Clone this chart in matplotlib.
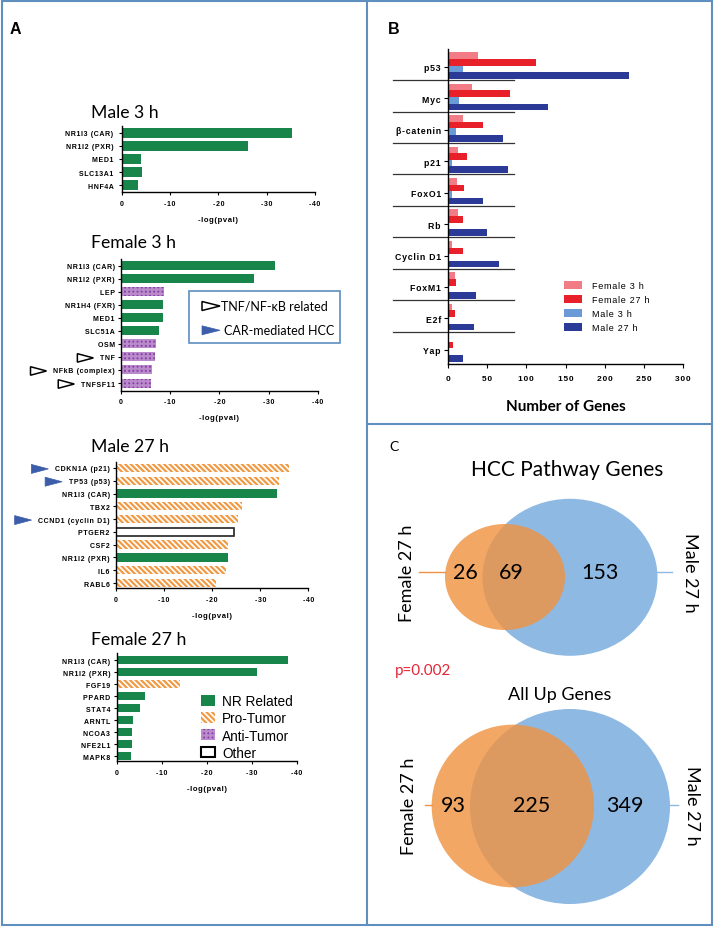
import numpy as np
import matplotlib
matplotlib.use('Agg')
import matplotlib.pyplot as plt
from matplotlib.patches import Patch, Ellipse, Rectangle, Polygon

# ---------------- data ----------------
m3_genes = ["NR1I3 (CAR)", "NR1I2 (PXR)", "MED1", "SLC13A1", "HNF4A"]
m3_vals = [-35.3, -26.1, -4.0, -4.1, -3.4]
m3_cats = ["NR", "NR", "NR", "NR", "NR"]

f3_genes = ["NR1I3 (CAR)", "NR1I2 (PXR)", "LEP", "NR1H4 (FXR)", "MED1", "SLC51A",
            "OSM", "TNF", "NFkB (complex)", "TNFSF11"]
f3_vals = [-31.4, -27.0, -8.7, -8.6, -8.6, -7.8, -7.2, -6.9, -6.4, -6.0]
f3_cats = ["NR", "NR", "Anti", "NR", "NR", "NR", "Anti", "Anti", "Anti", "Anti"]

m27_genes = ["CDKN1A (p21)", "TP53 (p53)", "NR1I3 (CAR)", "TBX2", "CCND1 (cyclin D1)",
             "PTGER2", "CSF2", "NR1I2 (PXR)", "IL6", "RABL6"]
m27_vals = [-36.0, -34.0, -33.5, -26.3, -25.4, -24.6, -23.4, -23.2, -22.8, -20.7]
m27_cats = ["Pro", "Pro", "NR", "Pro", "Pro", "Other", "Pro", "NR", "Pro", "Pro"]

f27_genes = ["NR1I3 (CAR)", "NR1I2 (PXR)", "FGF19", "PPARD", "STAT4", "ARNTL",
             "NCOA3", "NFE2L1", "MAPK8"]
f27_vals = [-37.9, -31.2, -14.1, -6.4, -5.3, -3.6, -3.4, -3.4, -3.3]
f27_cats = ["NR", "NR", "Pro", "NR", "NR", "NR", "NR", "NR", "NR"]

tnf_related = ["TNF", "NFkB (complex)", "TNFSF11"]
car_hcc = ["CDKN1A (p21)", "TP53 (p53)", "CCND1 (cyclin D1)"]

xticks_a = [0, -10, -20, -30, -40]

b_cats = ["p53", "Myc", "β-catenin", "p21", "FoxO1", "Rb", "Cyclin D1", "FoxM1", "E2f", "Yap"]
b_series = ["Female 3 h", "Female 27 h", "Male 3 h", "Male 27 h"]
b_f3 = [39, 31, 20, 13, 12, 13, 6, 9, 5, 2]
b_f27 = [113, 79, 45, 24, 21, 19, 20, 11, 9, 7]
b_m3 = [19, 14, 11, 5, 5, 2, 0, 0, 0, 0]
b_m27 = [231, 128, 71, 77, 45, 50, 65, 36, 33, 19]
xticks_b = [0, 50, 100, 150, 200, 250, 300]

venn1 = {"title": "HCC Pathway Genes", "left": 26, "both": 69, "right": 153}
venn2 = {"title": "All Up Genes", "left": 93, "both": 225, "right": 349}
p_text = "p=0.002"

# ---------------- style ----------------
W, H = 714, 928
GREEN = '#18864B'
ORANGE = '#F09A45'
PURPLE = '#8A3FA6'
PURPLE_L = '#B98BCB'
C_F3 = '#F27C85'
C_F27 = '#E8202A'
C_M3 = '#6A9BD8'
C_M27 = '#2B3A97'
BORDER = '#5E8FBF'
TRI_BLUE = '#3C5DAA'
V_BLUE = '#8EB9E3'
V_ORANGE = '#F0913F'
BOLD = ['Liberation Sans', 'DejaVu Sans']
HUM = ['Lato', 'DejaVu Sans']

plt.rcParams['hatch.linewidth'] = 1.6
PRO_HATCH = '\\' * 6
ANTI_HATCH = '++++'


def sp(s):
    return '\u200a'.join(s)


fig = plt.figure(figsize=(W / 100, H / 100), dpi=100)


def px_axes(x0, y0, x1, y1):
    ax = fig.add_axes([x0 / W, 1 - y1 / H, (x1 - x0) / W, (y1 - y0) / H])
    ax.set_facecolor('none')
    return ax


def style_spines(ax):
    for s in ['top', 'right']:
        ax.spines[s].set_visible(False)
    for s in ['left', 'bottom']:
        ax.spines[s].set_linewidth(1.0)
        ax.spines[s].set_color('black')


def hbar_panel(ax, genes, vals, cats, bh, ylim, ypad):
    y = np.arange(len(genes))
    for yi, v, c in zip(y, vals, cats):
        if c == 'NR':
            ax.barh(yi, v, bh, color=GREEN, lw=0)
        elif c == 'Pro':
            ax.barh(yi, v, bh, facecolor='white', edgecolor=ORANGE, hatch=PRO_HATCH, lw=0)
        elif c == 'Anti':
            ax.barh(yi, v, bh, color=PURPLE, lw=0)
            ax.barh(yi, v, bh, facecolor='none', edgecolor=PURPLE_L, hatch=ANTI_HATCH, lw=0)
        else:
            ax.barh(yi, v, bh, facecolor='white', edgecolor='#222222', lw=1.2)
    ax.set_xlim(0, -40)
    ax.set_ylim(*ylim)
    ax.set_xticks(xticks_a)
    ax.set_xticklabels([sp(str(t)) for t in xticks_a], fontsize=5, fontweight='bold', family=BOLD)
    ax.set_yticks(y)
    ax.set_yticklabels([sp(g) for g in genes], fontsize=5, fontweight='bold', family=BOLD)
    ax.tick_params(axis='x', length=2.5, width=0.8, pad=3)
    ax.tick_params(axis='y', length=2.5, width=0.8, pad=ypad)
    ax.set_xlabel(sp('-log(pval)'), fontsize=5.5, fontweight='bold', family=BOLD, labelpad=6.5)
    style_spines(ax)


ax_m3 = px_axes(121.7, 126.7, 315, 193.3)
hbar_panel(ax_m3, m3_genes, m3_vals, m3_cats, 0.72, (4.56, -0.56), 3.5)
ax_f3 = px_axes(121, 260, 317.7, 391.7)
hbar_panel(ax_f3, f3_genes, f3_vals, f3_cats, 0.69, (9.59, -0.51), 2)
ax_m27 = px_axes(116, 463.3, 308.3, 589)
hbar_panel(ax_m27, m27_genes, m27_vals, m27_cats, 0.65, (9.39, -0.44), 2)
ax_f27 = px_axes(116.5, 654.3, 297, 762)
hbar_panel(ax_f27, f27_genes, f27_vals, f27_cats, 0.69, (8.39, -0.56), 2)

# legend of categories
leg_handles = [
    Patch(facecolor=GREEN, lw=0),
    Patch(facecolor='white', edgecolor=ORANGE, hatch=PRO_HATCH, lw=0),
    (Patch(facecolor=PURPLE, lw=0), Patch(facecolor='none', edgecolor=PURPLE_L, hatch=ANTI_HATCH, lw=0)),
    Patch(facecolor='white', edgecolor='black', lw=1.5),
]
leg_labels = ["NR Related", "Pro-Tumor", "Anti-Tumor", "Other"]
ax_f27.legend(leg_handles, leg_labels, loc='upper left',
              bbox_to_anchor=(200.7 / W, 1 - 695 / H), bbox_transform=fig.transFigure,
              frameon=False, borderpad=0, borderaxespad=0, handlelength=1.06,
              handleheight=0.83, handletextpad=0.5, labelspacing=0.24,
              prop={'family': BOLD, 'size': 9.8})

# ---------------- panel B ----------------
ax_b = px_axes(447.7, 50, 683.3, 365)
yb = np.arange(len(b_cats))
offsets = [-0.36, -0.15, 0.06, 0.27]
bh_b = 0.21
for vals, col, off, lab in zip([b_f3, b_f27, b_m3, b_m27], [C_F3, C_F27, C_M3, C_M27], offsets, b_series):
    ax_b.barh(yb + off, vals, bh_b, color=col, lw=0, label=sp(lab))
ax_b.set_xlim(0, 300)
ax_b.set_ylim(9.45, -0.57)
ax_b.set_xticks(xticks_b)
ax_b.set_xticklabels([sp(str(t)) for t in xticks_b], fontsize=6, fontweight='bold', family=BOLD)
ax_b.set_yticks(yb)
ax_b.set_yticklabels([sp(c) for c in b_cats], fontsize=6.3, fontweight='bold', family=BOLD)
ax_b.tick_params(axis='x', length=3, width=0.8, pad=5.2)
ax_b.tick_params(axis='y', length=3, width=0.8, pad=2)
ax_b.set_xlabel("Number of Genes", fontsize=11, fontweight='bold', family=HUM, labelpad=12)
style_spines(ax_b)
for k in range(len(b_cats) - 1):
    ax_b.plot([-0.233, 0.281], [k + 0.42, k + 0.42], transform=ax_b.get_yaxis_transform(),
              color='#333333', lw=0.9, clip_on=False)
ax_b.legend(loc='upper left', bbox_to_anchor=(564.3 / W, 1 - 282 / H), bbox_transform=fig.transFigure,
            frameon=False, borderpad=0, borderaxespad=0, handlelength=2.0, handleheight=0.9,
            handletextpad=1.05, labelspacing=0.55, prop={'family': BOLD, 'size': 6.5})

# ---------------- overlay ----------------
ov = fig.add_axes([0, 0, 1, 1])
ov.set_xlim(0, W)
ov.set_ylim(H, 0)
ov.set_facecolor('none')
ov.axis('off')

# borders
ov.add_patch(Rectangle((2, 1.5), 710, 924, facecolor='none', edgecolor=BORDER, lw=1.5))
ov.plot([366.7, 366.7], [1.5, 925.5], color=BORDER, lw=1.5)
ov.plot([366.7, 712], [425, 425], color=BORDER, lw=1.5)

ov.text(10, 29, "A", fontsize=11.5, fontweight='bold', family=BOLD, va='center', ha='left')
ov.text(388, 29, "B", fontsize=11.5, fontweight='bold', family=BOLD, va='center', ha='left')
ov.text(389, 447, "C", fontsize=10, family=HUM, va='center', ha='left')

for title, yc in [("Male 3 h", 113), ("Female 3 h", 243), ("Male 27 h", 447), ("Female 27 h", 640)]:
    ov.text(90.7, yc, title, fontsize=12.7, family=HUM, va='center', ha='left')


def tri(xr, yc, w, h, face, edge, lw):
    ov.add_patch(Polygon([[xr - w, yc - h / 2], [xr - w, yc + h / 2], [xr, yc]], closed=True,
                         facecolor=face, edgecolor=edge, lw=lw, joinstyle='miter'))


fig.canvas.draw()
renderer = fig.canvas.get_renderer()


def mark(ax, genes, targets, face, edge, lw, w, h):
    labels = ax.get_yticklabels()
    for g, lab in zip(genes, labels):
        if g in targets:
            bb = lab.get_window_extent(renderer)
            yc = H - (bb.y0 + bb.y1) / 2
            tri(bb.x0 - 6.5, yc, w, h, face, edge, lw)


mark(ax_f3, f3_genes, tnf_related, 'white', 'black', 1.1, 16, 8.5)
mark(ax_m27, m27_genes, car_hcc, TRI_BLUE, TRI_BLUE, 0.5, 17, 9)

# triangle legend box
ov.add_patch(Rectangle((189, 291.7), 151, 52.3, facecolor='white', edgecolor=BORDER, lw=1.2))
tri(220, 307, 18, 9, 'white', 'black', 1.1)
tri(220, 331.3, 18, 9, TRI_BLUE, TRI_BLUE, 0.5)
ov.text(221, 307, "TNF/NF-κB related", fontsize=9, family=HUM, va='center', ha='left')
ov.text(224, 331.3, "CAR-mediated HCC", fontsize=9, family=HUM, va='center', ha='left')


# ---------------- panel C: Venn ----------------
def venn(d, title_xy, title_size, oc, ow, oh, bc, bw, bhh, ly, lab_x, line_o, line_b, num_x):
    ov.add_patch(Ellipse(bc, bw, bhh, facecolor=V_BLUE, edgecolor='none'))
    ov.add_patch(Ellipse(oc, ow, oh, facecolor=V_ORANGE, edgecolor='none', alpha=0.8))
    ov.text(title_xy[0], title_xy[1], d["title"], fontsize=title_size, family=HUM, ha='center', va='center')
    ov.plot(line_o, [ly, ly], color=V_ORANGE, lw=1)
    ov.plot(line_b, [ly, ly], color=V_BLUE, lw=1)
    ov.text(lab_x[0], ly, "Female 27 h", rotation=90, fontsize=13, family=HUM, ha='center', va='center')
    ov.text(lab_x[1], ly, "Male 27 h", rotation=270, fontsize=13, family=HUM, ha='center', va='center')
    for key, x in zip(["left", "both", "right"], num_x):
        ov.text(x, ly, str(d[key]), fontsize=15.5, family=HUM, ha='center', va='center')


venn(venn1, (566.7, 470), 15, (505, 578), 120, 106, (570, 578.3), 175, 157, 573,
     (406.7, 690), (419.3, 445), (657.3, 671.7), (465, 511.7, 600))
venn(venn2, (560, 695), 13, (512.8, 807), 162.3, 162.7, (570, 807.5), 200, 195, 806,
     (409.3, 691.7), (425, 431.7), (670, 678), (453.3, 531.7, 625))

ov.text(395, 670.7, p_text, fontsize=11, family=HUM, color='#E32636', ha='left', va='center')

fig.savefig('out.png', dpi=100)
